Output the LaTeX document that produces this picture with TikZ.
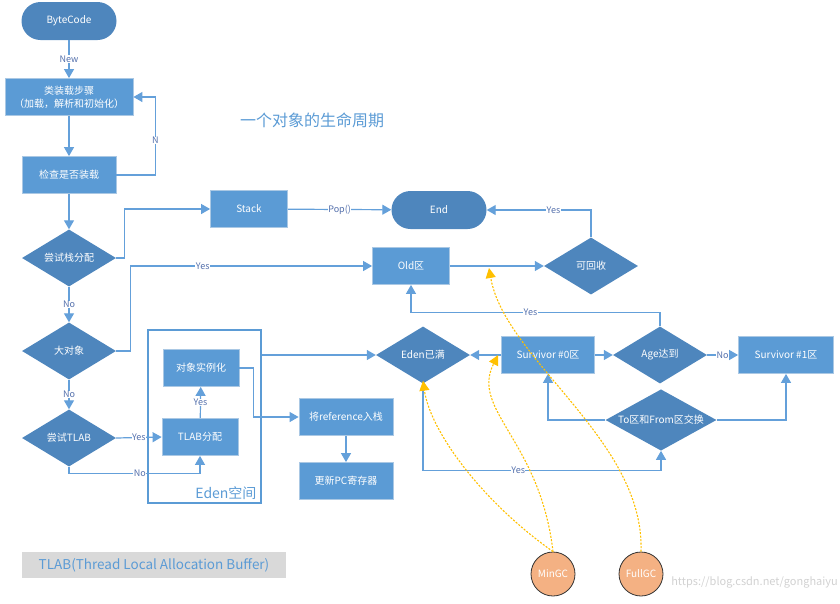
\documentclass[tikz,border=0pt]{standalone}
\usepackage{fontspec}
\setmainfont{Noto Sans CJK SC}
\usetikzlibrary{arrows.meta,positioning,shapes.geometric}

\definecolor{boxblue}{RGB}{91,155,213}
\definecolor{diablue}{RGB}{78,134,189}
\definecolor{edgeblue}{RGB}{100,160,218}
\definecolor{labblue}{RGB}{84,112,172}
\definecolor{gcyellow}{RGB}{255,192,0}
\definecolor{gcfill}{RGB}{244,177,131}

\tikzset{
  box/.style={rectangle, draw={rgb,255:red,170;green,200;blue,228}, line width=0.8pt,
    fill=boxblue, text=white, minimum width=77pt, minimum height=37pt,
    inner sep=1pt, align=center, font=\fontsize{10}{13}\selectfont},
  dia/.style={diamond, aspect=1.65, fill=diablue, text=white, inner sep=0pt,
    minimum width=94pt, minimum height=57pt, font=\fontsize{10}{12}\selectfont},
  term/.style={rectangle, rounded corners=19pt, fill=diablue, text=white,
    minimum width=95pt, minimum height=38pt, font=\fontsize{10}{12}\selectfont},
  gc/.style={circle, draw=black!80, line width=0.8pt, fill=gcfill, text=white,
    minimum size=44pt, inner sep=0pt, font=\fontsize{10}{12}\selectfont},
  arr/.style={draw=edgeblue, line width=1.2pt, -{Triangle[length=9pt,width=10pt]}},
  lbl/.style={fill=white, text=labblue, inner sep=0.5pt, font=\fontsize{9}{10}\selectfont},
  gcarr/.style={draw=gcyellow, line width=1.1pt, dash pattern=on 2pt off 1.5pt,
    -{Triangle[length=10pt,width=10pt,fill=gcyellow]}}
}

\begin{document}
\begin{tikzpicture}[x=1pt,y=-1pt]
\useasboundingbox (0,0) rectangle (840,603);
% left column
\node (bytecode) [term]                              at (69,21)  {ByteCode};
\node (classload)[box, minimum width=128pt]          at (69,97)  {类装载步骤\\（加载，解析和初始化）};
\node (check)    [box, minimum width=94pt]           at (69,175) {检查是否装载};
\node (trystack) [dia]                               at (69,258) {尝试栈分配};
\node (bigobj)   [dia]                               at (69,351) {大对象};
\node (trytlab)  [dia]                               at (69,438) {尝试TLAB};
%
\node (title) [text=boxblue, font=\fontsize{16}{18}\selectfont] at (312,120) {一个对象的生命周期};
%
\node (stack)  [box]  at (249,209) {Stack};
\node (finish) [term] at (439,210) {End};
\node (old)    [box]  at (411,266) {Old区};
\node (recyc)  [dia]  at (591,266) {可回收};
% eden space
\node (edenbox) [draw=boxblue, line width=2pt, minimum width=113pt, minimum height=173pt] at (204.5,416.5) {};
\node (edenlbl) [anchor=south east, text=boxblue, font=\fontsize{14}{16}\selectfont]
  at ([xshift=-2pt,yshift=1pt]edenbox.south east) {Eden空间};
\node (inst)  [box, minimum width=76pt] at (201,368) {对象实例化};
\node (alloc) [box, minimum width=76pt] at (200,437) {TLAB分配};
\node (ref)   [box, minimum width=94pt] at (346,417) {将reference入栈};
\node (pc)    [box, minimum width=94pt] at (346,481) {更新PC寄存器};
% gc area
\node (edenfull) [dia]                     at (423,355) {Eden已满};
\node (surv0)    [box, minimum width=93pt] at (548,355) {Survivor \#0区};
\node (age)      [dia]                     at (660,355) {Age达到};
\node (surv1)    [box, minimum width=95pt] at (786,355) {Survivor \#1区};
\node (swap)     [dia, minimum width=111pt] at (661,420) {To区和From区交换};
%
\node (mingc)  [gc] at (553,574) {MinGC};
\node (fullgc) [gc] at (641,574) {FullGC};
\node (note) [fill=black!15, text=boxblue, minimum width=264pt, minimum height=26pt,
  font=\fontsize{13.5}{15}\selectfont] at (154,565) {TLAB(Thread Local Allocation Buffer)};
\node (mark) [anchor=east, inner sep=0pt, text=black!18, font=\fontsize{11}{12}\selectfont] at (838,582) {https://blog.csdn.net/gonghaiyu};

% connectors
\draw[arr] (bytecode) -- node[lbl]{New} (classload);
\draw[arr] (classload) -- (check);
\draw[arr] (check.east) -| node[lbl,pos=0.72]{N} ([xshift=22pt]classload.east) -- (classload.east);
\draw[arr] (check) -- (trystack);
\draw[arr] (trystack.east) -- ++(8,0) |- (stack.west);
\draw[arr] (stack) -- node[lbl]{Pop()} (finish);
\draw[arr] (trystack) -- node[lbl]{No} (bigobj);
\draw[arr] (bigobj.east) -- ++(14,0) |- node[lbl,pos=0.65]{Yes} (old.west);
\draw[arr] (bigobj) -- node[lbl]{No} (trytlab);
\draw[arr] (trytlab.east) -- node[lbl]{Yes} (alloc.west);
\draw[arr] (trytlab.south) -- ++(0,7) -| node[lbl,pos=0.27]{No} (alloc.south);
\draw[arr] (alloc) -- node[lbl]{Yes} (inst);
\draw[arr] (inst.east) -- ++(14,0) |- (ref.west);
\draw[arr] (ref) -- (pc);
\draw[arr] (edenbox.east |- edenfull) -- (edenfull.west);
\draw[arr] (surv0) -- (edenfull);
\draw[arr] (surv0) -- (age);
\draw[arr] (age) -- node[lbl]{No} (surv1);
\draw[arr] (age.north) -- ++(0,-14) -| node[lbl,pos=0.26]{Yes} (old.south);
\draw[arr] (swap.west) -| (surv0.south);
\draw[arr] (swap.east) -| (surv1.south);
\draw[arr] (edenfull.south) -- ++(0,87) -| node[lbl,pos=0.2]{Yes} (swap.south);
\draw[arr] (old) -- (recyc);
\draw[arr] (recyc.north) |- node[lbl,pos=0.68]{Yes} (finish.east);
% gc hints
\draw[gcarr] (mingc.north) .. controls (480,500) and (430,430) .. ([yshift=3pt]edenfull.south);
\draw[gcarr] (mingc.north) .. controls (540,440) and (470,410) .. ([xshift=-3pt]surv0.west);
\draw[gcarr] (fullgc.north) .. controls (645,440) and (505,360) .. (489,268);
\end{tikzpicture}
\end{document}
